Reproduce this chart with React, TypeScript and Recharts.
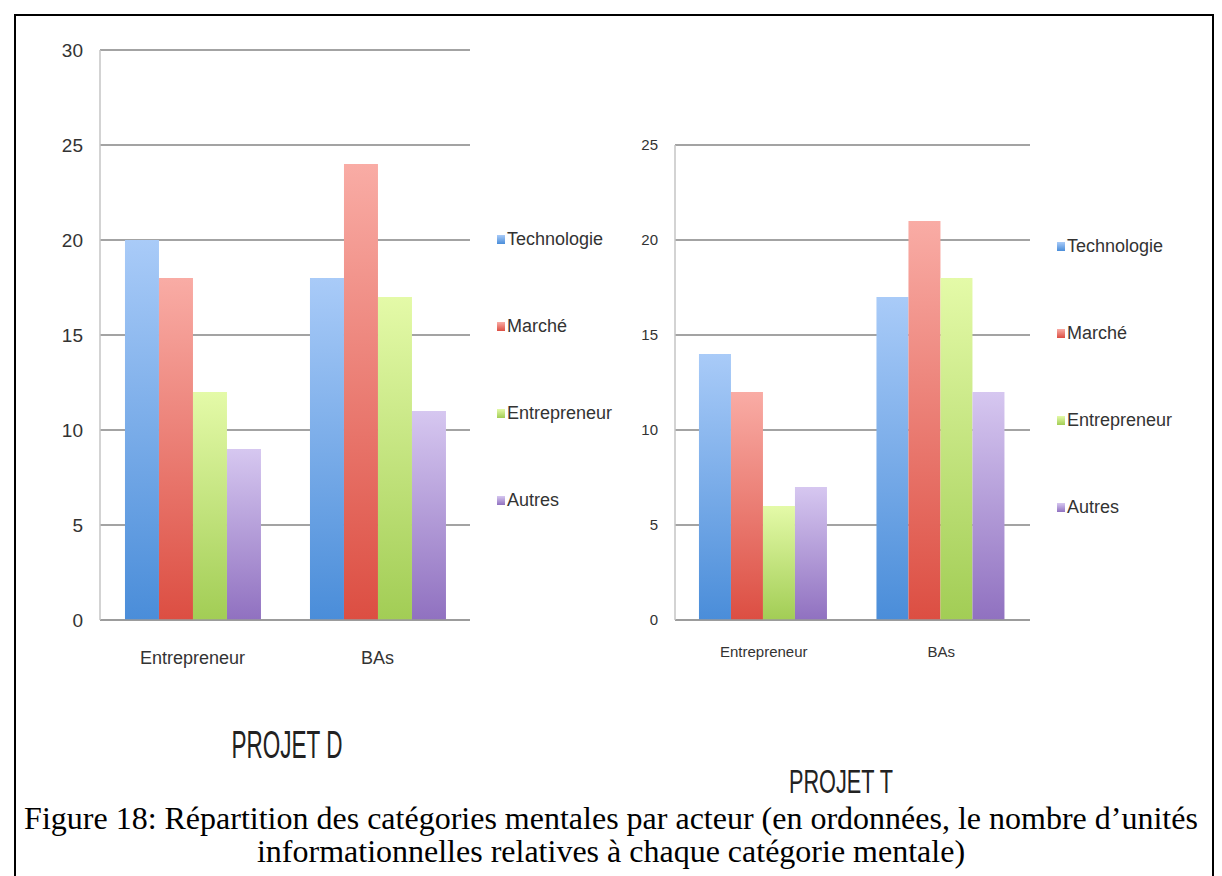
import { BarChart, Bar, XAxis, YAxis, CartesianGrid, Legend } from 'recharts';

// categories (x axis) and series
const actors = ['Entrepreneur', 'BAs'];
const series = ['Technologie', 'Marché', 'Entrepreneur', 'Autres'];

// PROJET D
const dTechnologie = [20, 18];
const dMarche = [18, 24];
const dEntrepreneur = [12, 17];
const dAutres = [9, 11];
const dTicks = [0, 5, 10, 15, 20, 25, 30];

// PROJET T
const tTechnologie = [14, 17];
const tMarche = [12, 21];
const tEntrepreneur = [6, 18];
const tAutres = [7, 12];
const tTicks = [0, 5, 10, 15, 20, 25];

const gradients: Record<string, [string, string]> = {
  Technologie: ['#a9cbf8', '#4a8dd9'],
  'Marché': ['#f9aca5', '#dc4e42'],
  Entrepreneur: ['#e4faa8', '#a2cd55'],
  Autres: ['#d6c7f0', '#9071c0'],
};

const buildRows = (t: number[], m: number[], e: number[], a: number[]) =>
  actors.map((actor, i) => ({
    actor,
    Technologie: t[i],
    'Marché': m[i],
    Entrepreneur: e[i],
    Autres: a[i],
  }));

const dataD = buildRows(dTechnologie, dMarche, dEntrepreneur, dAutres);
const dataT = buildRows(tTechnologie, tMarche, tEntrepreneur, tAutres);

const font = '"Liberation Sans", Arial, sans-serif';

const makeLegend = (spacing: number) => (props: any) => {
  const items = [...(props.payload || [])].sort(
    (a: any, b: any) => series.indexOf(a.value) - series.indexOf(b.value)
  );
  return (
    <div style={{ fontFamily: font, fontSize: 18, color: '#333' }}>
      {items.map((entry: any) => (
        <div key={entry.value} style={{ height: spacing, display: 'flex', alignItems: 'center' }}>
          <span
            style={{
              display: 'inline-block',
              width: 8,
              height: 9,
              marginRight: 2,
              background: `linear-gradient(${gradients[entry.value][0]}, ${gradients[entry.value][1]})`,
            }}
          />
          <span>{entry.value}</span>
        </div>
      ))}
    </div>
  );
};

interface PanelProps {
  id: string;
  data: any[];
  ticks: number[];
  left: number;
  width: number;
  margin: { top: number; right: number; bottom: number; left: number };
  yWidth: number;
  tickSize: number;
  catSize: number;
  catMargin: number;
  legendLeft: number;
  legendTop: number;
}

const Panel = (p: PanelProps) => (
  <div style={{ position: 'absolute', left: p.left, top: 0 }}>
    <BarChart width={p.width} height={700} data={p.data} margin={p.margin} barCategoryGap="13.5%" barGap={0}>
      <defs>
        {series.map((s, i) => (
          <linearGradient key={s} id={`${p.id}g${i}`} x1="0" y1="0" x2="0" y2="1">
            <stop offset="0%" stopColor={gradients[s][0]} />
            <stop offset="100%" stopColor={gradients[s][1]} />
          </linearGradient>
        ))}
      </defs>
      <CartesianGrid vertical={false} stroke="#858585" strokeWidth={1.5} />
      <XAxis
        dataKey="actor"
        height={50}
        axisLine={{ stroke: '#9a9a9a', strokeWidth: 1.5 }}
        tickLine={false}
        tickSize={0}
        tickMargin={p.catMargin}
        tick={{ fontSize: p.catSize, fill: '#333', fontFamily: font }}
      />
      <YAxis
        width={p.yWidth}
        domain={[0, p.ticks[p.ticks.length - 1]]}
        ticks={p.ticks}
        interval={0}
        axisLine={{ stroke: '#c4c4c4', strokeWidth: 1.5 }}
        tickLine={false}
        tickSize={0}
        tickMargin={17}
        tick={{ fontSize: p.tickSize, fill: '#333', fontFamily: font }}
      />
      <Legend
        layout="vertical"
        align="center"
        verticalAlign="middle"
        content={makeLegend(87)}
        wrapperStyle={{ left: p.legendLeft, top: p.legendTop, width: 160 }}
      />
      {series.map((s, i) => (
        <Bar key={s} dataKey={s} fill={`url(#${p.id}g${i})`} isAnimationActive={false} />
      ))}
    </BarChart>
  </div>
);

export default function App() {
  return (
    <div style={{ position: 'absolute', left: 0, top: 0, width: 1222, height: 876, background: '#fff', overflow: 'hidden' }}>
      <div
        style={{
          position: 'absolute',
          left: 14,
          top: 14,
          width: 1196,
          height: 900,
          border: '2px solid #000',
        }}
      />
      <Panel
        id="d"
        data={dataD}
        ticks={dTicks}
        left={0}
        width={620}
        margin={{ top: 50, right: 150, bottom: 30, left: 0 }}
        yWidth={100}
        tickSize={19}
        catSize={18}
        catMargin={31}
        legendLeft={497}
        legendTop={196}
      />
      <Panel
        id="t"
        data={dataT}
        ticks={tTicks}
        left={600}
        width={622}
        margin={{ top: 145, right: 192, bottom: 30, left: 0 }}
        yWidth={75}
        tickSize={15}
        catSize={15}
        catMargin={26}
        legendLeft={457}
        legendTop={203}
      />
      <svg width={1222} height={876} style={{ position: 'absolute', left: 0, top: 0, pointerEvents: 'none' }}>
        <text x={287} y={758} textAnchor="middle" fontFamily={font} fontSize={38} fill="#222" textLength={111} lengthAdjust="spacingAndGlyphs">
          PROJET D
        </text>
        <text x={841} y={793} textAnchor="middle" fontFamily={font} fontSize={33} fill="#222" textLength={104} lengthAdjust="spacingAndGlyphs">
          PROJET T
        </text>
      </svg>
      <div
        style={{
          position: 'absolute',
          left: 0,
          top: 802,
          width: 1222,
          textAlign: 'center',
          fontFamily: '"Liberation Serif", "Times New Roman", serif',
          fontSize: 32,
          lineHeight: '33px',
          color: '#000',
          whiteSpace: 'nowrap',
        }}
      >
        Figure 18: Répartition des catégories mentales par acteur (en ordonnées, le nombre d’unités
        <br />
        informationnelles relatives à chaque catégorie mentale)
      </div>
    </div>
  );
}
